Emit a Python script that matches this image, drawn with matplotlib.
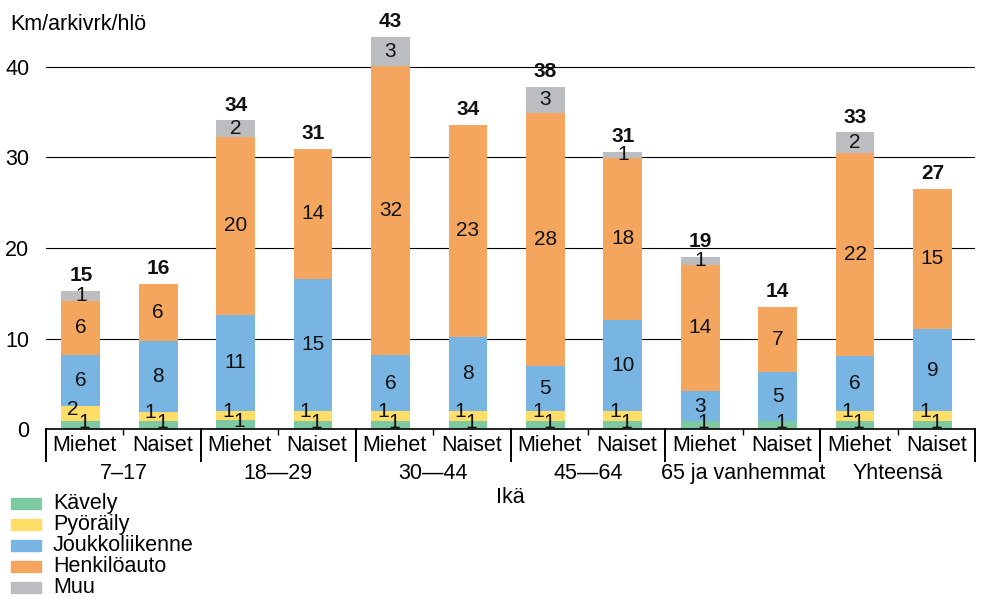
import numpy as np
import matplotlib.pyplot as plt

plt.rcParams['font.family'] = ['Liberation Sans', 'DejaVu Sans']

sukupuoli = ['Miehet', 'Naiset'] * 6
ikaryhmat = ['7–17', '18—29', '30—44', '45—64', '65 ja vanhemmat', 'Yhteensä']

# km per arkivuorokausi per henkilö, kulkutavoittain
kavely = [0.96, 0.96, 1.03, 0.93, 0.96, 0.96, 0.93, 0.93, 0.93, 0.93, 0.93, 0.93]
pyoraily = [1.62, 0.99, 1.0, 1.1, 1.07, 1.07, 1.13, 1.13, 0, 0, 1.1, 1.1]
joukkoliikenne = [5.59, 7.8, 10.6, 14.6, 6.17, 8.16, 4.97, 10.0, 3.3, 5.43, 6.1, 9.04]
henkiloauto = [6.02, 6.28, 19.6, 14.3, 31.9, 23.4, 27.82, 17.9, 13.9, 7.17, 22.31, 15.45]
muu = [1.07, 0, 1.84, 0, 3.16, 0, 2.93, 0.62, 0.92, 0, 2.31, 0]

sarjat = [('Kävely', kavely, '#7ec9a2'),
          ('Pyöräily', pyoraily, '#ffdd66'),
          ('Joukkoliikenne', joukkoliikenne, '#79b5e3'),
          ('Henkilöauto', henkiloauto, '#f5a65e'),
          ('Muu', muu, '#bcbdc0')]

fig = plt.figure(figsize=(9.81, 5.97), dpi=100)
ax = fig.add_axes([0.0469, 0.2807, 0.9470, 0.6838])

x = np.arange(len(sukupuoli))
xb = x - 0.05
pohja = np.zeros(len(x))
# pienten osuuksien tekstit hieman sivuun, ettei ne mene päällekkäin
siirto = {'Kävely': (2.5, 2), 'Pyöräily': (-5.5, 3)}
for nimi, arvot, vari in sarjat:
    arvot = np.array(arvot)
    ax.bar(xb, arvot, 0.5, bottom=pohja, color=vari, zorder=2)
    for xi, b, v in zip(xb, pohja, arvot):
        if v > 0:
            ax.annotate(f'{v:.0f}', (xi, b + v / 2), xytext=siirto.get(nimi, (0, 0)),
                        textcoords='offset points', ha='center', va='center',
                        fontsize=15, color='#111111', zorder=3)
    pohja += arvot

for xi, s in zip(xb, pohja):
    ax.annotate(f'{s:.0f}', (xi, s), xytext=(0, 7), textcoords='offset points',
                ha='center', va='baseline', fontsize=15, fontweight='bold',
                color='#111111')

ax.set_xlim(-0.5, 11.5)
ax.set_ylim(0, 45)
ax.set_yticks([0, 10, 20, 30, 40])
ax.tick_params(axis='y', length=0, pad=12, labelsize=15.5)
ax.yaxis.grid(True, color='black', linewidth=0.8)
ax.set_axisbelow(True)
for s in ['top', 'right', 'left']:
    ax.spines[s].set_visible(False)
ax.spines['bottom'].set_linewidth(1.2)

ax.set_xticks(x)
ax.set_xticklabels(sukupuoli, fontsize=15.5)
ax.tick_params(axis='x', which='major', length=0, pad=4)
ax.set_xticks(np.arange(0.5, 12, 2), minor=True)
ax.tick_params(axis='x', which='minor', length=4, width=1)

# ryhmien väliviivat ja ikäryhmien nimet
trans = ax.get_xaxis_transform()
for g in range(7):
    ax.plot([2 * g - 0.5] * 2, [0, -0.078], color='black', lw=1.4,
            transform=trans, clip_on=False)
for g, nimi in enumerate(ikaryhmat):
    ax.text(2 * g + 0.5, -0.108, nimi, transform=trans, ha='center', va='center',
            fontsize=15.5)
ax.text(5.5, -0.166, 'Ikä', transform=trans, ha='center', va='center', fontsize=15.5)

fig.text(10 / 981, 1 - 25 / 597, 'Km/arkivrk/hlö', ha='left', va='center', fontsize=15.5)

# selite
for i, (nimi, _, vari) in enumerate(sarjat):
    yc = 1 - (503 + 21.1 * i) / 597
    fig.patches.append(plt.Rectangle((11 / 981, yc - 5.5 / 597), 30 / 981, 11 / 597,
                                     color=vari, transform=fig.transFigure))
    fig.text(53 / 981, yc, nimi, ha='left', va='center', fontsize=15.5)

fig.savefig('out.png', dpi=100)
